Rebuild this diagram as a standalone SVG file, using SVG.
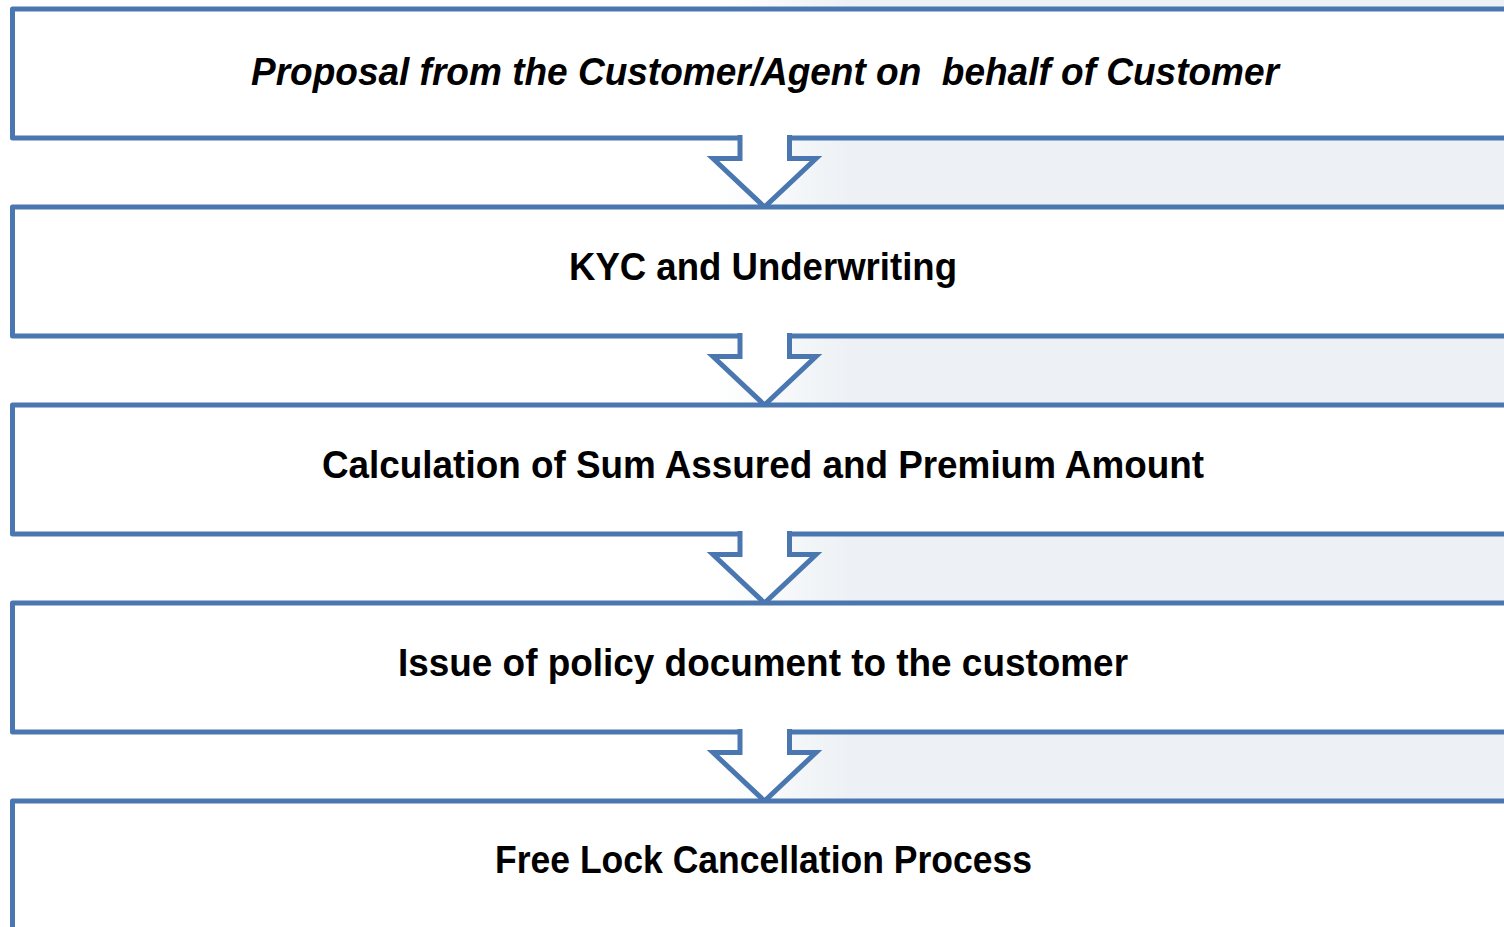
<svg xmlns="http://www.w3.org/2000/svg" width="1504" height="927" viewBox="0 0 1504 927">
  <defs>
    <linearGradient id="bg" gradientUnits="userSpaceOnUse" x1="715" y1="0" x2="850" y2="0">
      <stop offset="0" stop-color="#ffffff"/>
      <stop offset="1" stop-color="#edf1f5"/>
    </linearGradient>
    <style>
      .box { fill: #ffffff; stroke: #4a77b0; stroke-width: 5; stroke-linejoin: round; }
      .arrow { fill: #ffffff; stroke: #4a77b0; stroke-width: 5; stroke-linejoin: miter; }
      .lbl { font-family: "Liberation Sans Narrow", "Arial Narrow", "Liberation Sans", sans-serif; font-weight: bold; font-size: 38px; fill: #000000; text-anchor: middle; white-space: pre; }
      .it { font-style: italic; }
    </style>
  </defs>

  <rect x="0" y="0" width="1504" height="927" fill="#ffffff"/>
  <rect x="700" y="0" width="804" height="927" fill="url(#bg)"/>

  <g id="node1">
    <rect class="box" x="12.5" y="9" width="1520" height="129"/>
    <text class="lbl it" x="765" y="85" textLength="1028" lengthAdjust="spacingAndGlyphs">Proposal from the Customer/Agent on  behalf of Customer</text>
  </g>
  <g id="connectors-1">
    <path class="arrow" d="M740,135 V158.5 H713 L764.5,207 L816,158.5 H789.5 V135"/>
  </g>
  <g id="node2">
    <rect class="box" x="12.5" y="207" width="1520" height="129"/>
    <text class="lbl" x="763" y="280" textLength="388" lengthAdjust="spacingAndGlyphs">KYC and Underwriting</text>
  </g>
  <g id="connectors-2">
    <path class="arrow" d="M740,333 V356.5 H713 L764.5,405 L816,356.5 H789.5 V333"/>
  </g>
  <g id="node3">
    <rect class="box" x="12.5" y="405" width="1520" height="129"/>
    <text class="lbl" x="763" y="478" textLength="882" lengthAdjust="spacingAndGlyphs">Calculation of Sum Assured and Premium Amount</text>
  </g>
  <g id="connectors-3">
    <path class="arrow" d="M740,531 V554.5 H713 L764.5,603 L816,554.5 H789.5 V531"/>
  </g>
  <g id="node4">
    <rect class="box" x="12.5" y="603" width="1520" height="129"/>
    <text class="lbl" x="763" y="676" textLength="730" lengthAdjust="spacingAndGlyphs">Issue of policy document to the customer</text>
  </g>
  <g id="connectors-4">
    <path class="arrow" d="M740,729 V752.5 H713 L764.5,801 L816,752.5 H789.5 V729"/>
  </g>
  <g id="node5">
    <rect class="box" x="12.5" y="801" width="1520" height="160"/>
    <text class="lbl" x="763.5" y="873" textLength="537" lengthAdjust="spacingAndGlyphs">Free Lock Cancellation Process</text>
  </g>
</svg>
